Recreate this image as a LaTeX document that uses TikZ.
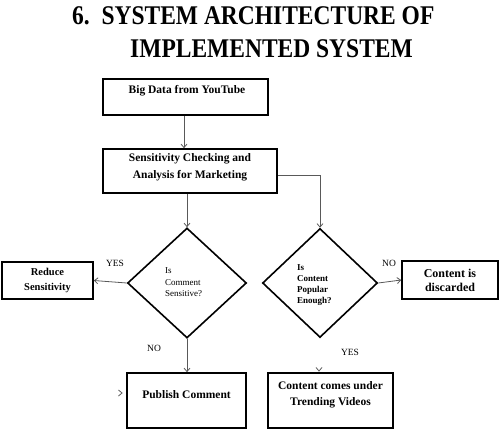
\documentclass[tikz,border=0pt]{standalone}
\usepackage{fontspec}
\setmainfont{Liberation Serif}
\newfontfamily\titlefont[FakeStretch=0.87]{Liberation Serif}
\usetikzlibrary{shapes.geometric,arrows.meta}
\begin{document}
\begin{tikzpicture}[x=1pt,y=-1pt,
 box/.style={draw=black,line width=1.6pt,inner sep=0pt},
 dia/.style={diamond,draw=black,line width=1.6pt,inner sep=0pt},
 txt/.style={font=\fontsize{11.5}{17}\selectfont\bfseries,align=center,inner sep=0pt},
 arr/.style={draw=black!65,line width=0.8pt,-{Straight Barb[length=3.5pt,width=6pt]}},
 chev/.style={draw=black!65,line width=0.8pt},
 lbl/.style={font=\fontsize{9.5}{11}\selectfont,inner sep=0pt},
 ttl/.style={font=\titlefont\bfseries\fontsize{27}{31}\selectfont,inner sep=0pt,anchor=base west}]
\useasboundingbox (0,0) rectangle (501,436);
\fill[white] (0,0) rectangle (501,436);
% title
\node[ttl] (title1) at (72,25) {6.\ \ SYSTEM ARCHITECTURE OF};
\node[ttl] (title2) at (130,57.5) {IMPLEMENTED SYSTEM};
% boxes
\node[box,minimum width=165pt,minimum height=36pt] (box1) at (185.5,97) {};
\node[box,minimum width=174pt,minimum height=44pt] (box2) at (190,171) {};
\node[box,minimum width=91pt,minimum height=37pt] (reduce) at (47.5,280.5) {};
\node[box,minimum width=96pt,minimum height=38pt] (disc) at (450,280) {};
\node[box,minimum width=119pt,minimum height=55pt] (publish) at (186.5,400.5) {};
\node[box,minimum width=125pt,minimum height=55pt] (trend) at (330.5,400.5) {};
% diamonds
\node[dia,minimum width=119pt,minimum height=110pt] (d1) at (187,283) {};
\node[dia,minimum width=115pt,minimum height=109pt] (d2) at (320,283) {};
% texts
\node[txt] (t1) at (187,91) {Big Data from YouTube};
\node[txt] (t2) at (190,167.5) {Sensitivity Checking and\\Analysis for Marketing};
\node[txt,font=\fontsize{10.5}{15}\selectfont\bfseries] (tr) at (47.5,280.5) {Reduce\\Sensitivity};
\node[txt,font=\fontsize{12}{14}\selectfont\bfseries] (td) at (450,280) {Content is\\discarded};
\node[txt] (tp) at (186.5,395) {Publish Comment};
\node[txt,font=\fontsize{11.5}{16}\selectfont\bfseries] (tt) at (330.5,395) {Content comes under\\Trending Videos};
\node[inner sep=0pt,anchor=west,align=left,font=\fontsize{9}{11.5}\selectfont] (d1t) at (165,282.5) {Is\\Comment\\Sensitive?};
\node[inner sep=0pt,anchor=west,align=left,font=\fontsize{9}{11.3}\selectfont\bfseries] (d2t) at (297,285) {Is\\Content\\Popular\\Enough?};
% labels
\node[lbl] (yes1) at (115,263) {YES};
\node[lbl] (no1) at (389,263) {NO};
\node[lbl] (no2) at (154,348) {NO};
\node[lbl] (yes2) at (350,352) {YES};
% connectors
\draw[arr] ([xshift=-1.5pt]box1.south) -- ([xshift=-1.5pt]box1.south |- box2.north);
\draw[arr] (d1.north |- box2.south) -- (d1.north);
\draw[arr] ([yshift=-4pt]box2.east) -| (d2.north);
\draw[arr] (d1.west) -- (reduce.east);
\draw[arr] (d2.east) -- (disc.west);
\draw[arr] (d1.south) -- (d1.south |- publish.north);
% stray arrowheads
\coordinate (c1) at (122,393);
\coordinate (c2) at (319,371);
\draw[chev] ([shift={(-3.5,-3)}]c1) -- (c1) -- ([shift={(-3.5,3)}]c1);
\draw[chev] ([shift={(-3,-3.5)}]c2) -- (c2) -- ([shift={(3,-3.5)}]c2);
\end{tikzpicture}
\end{document}
